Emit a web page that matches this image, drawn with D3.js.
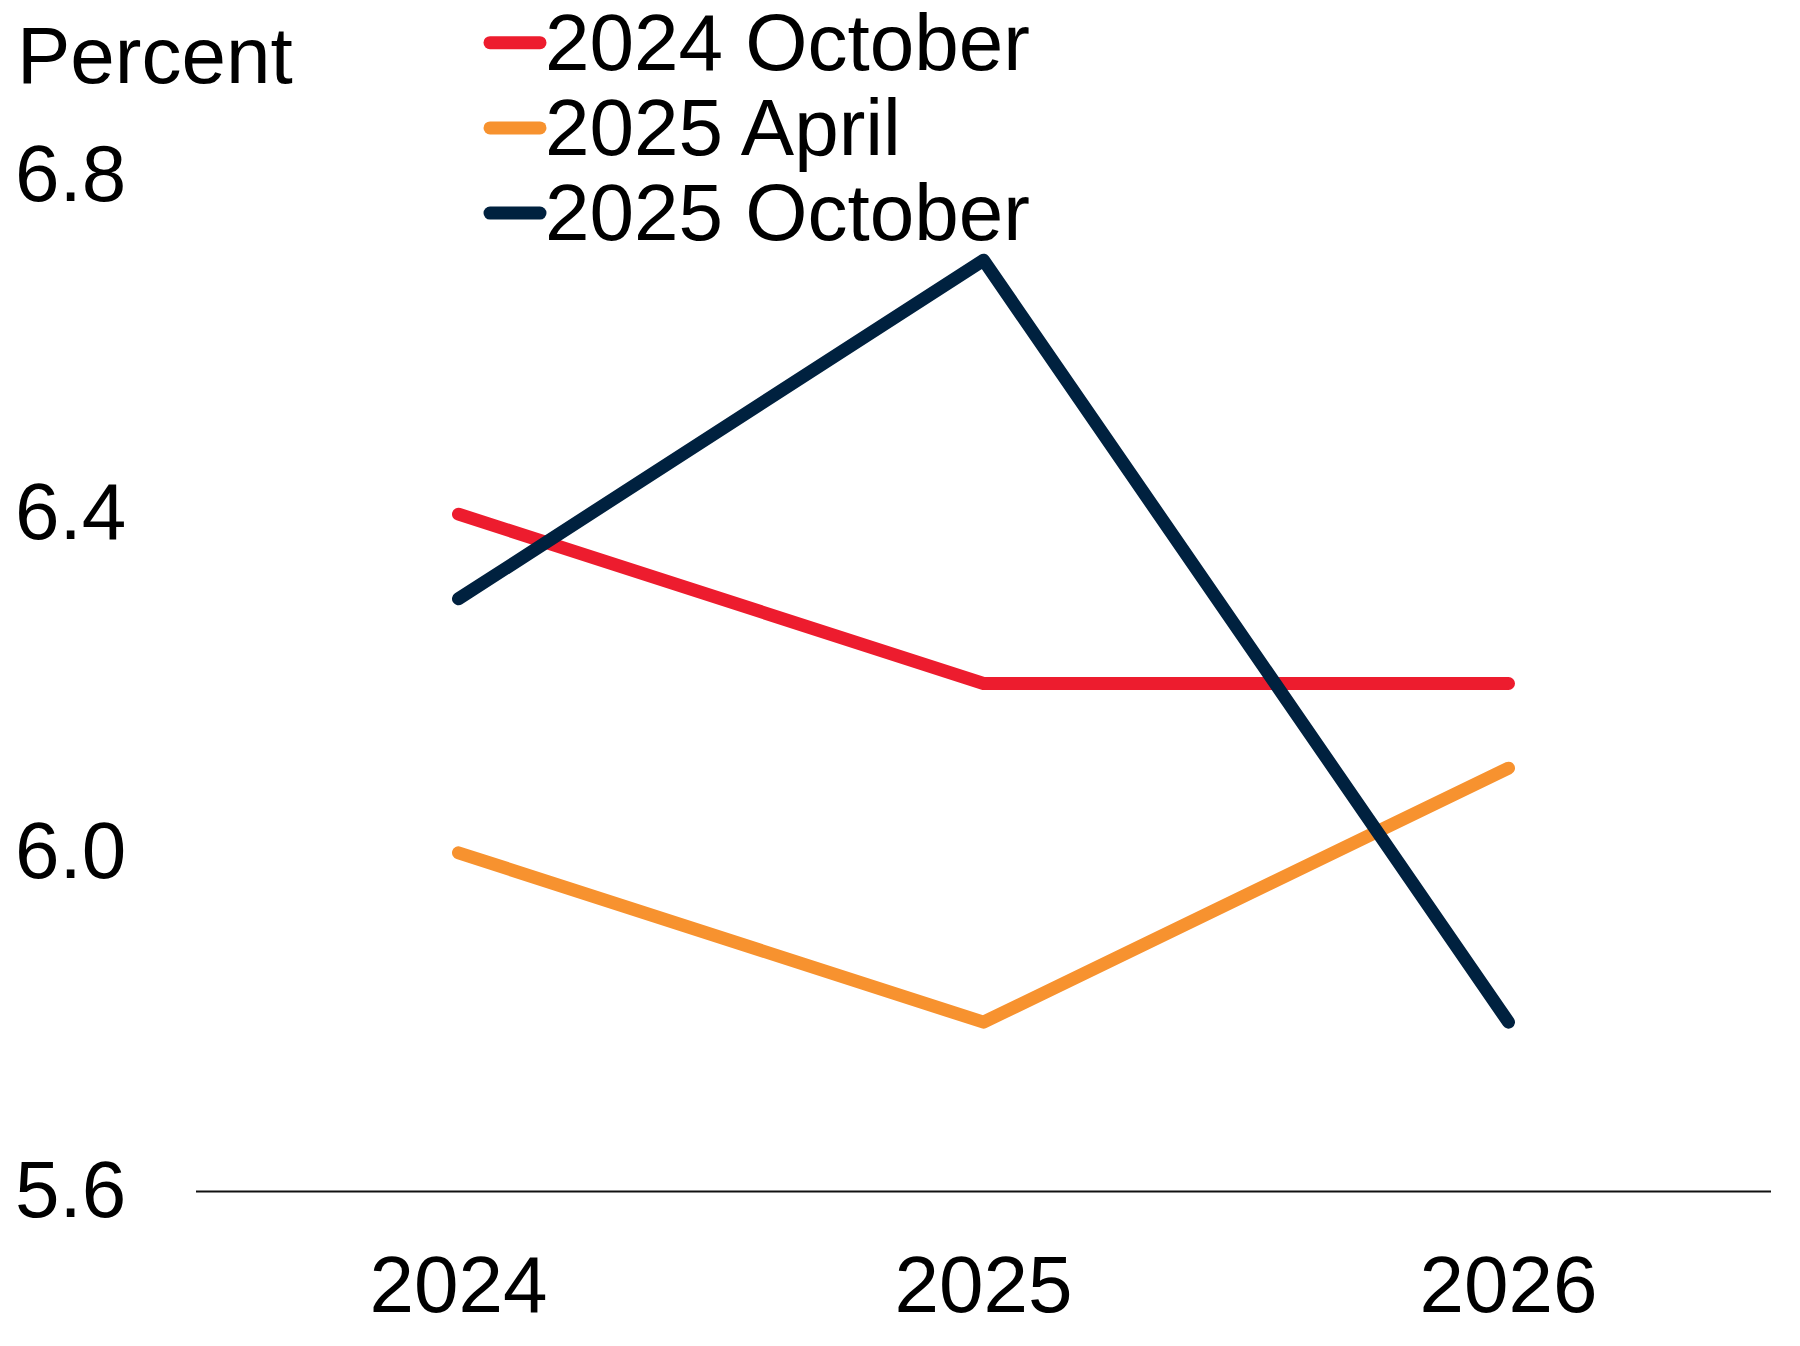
<!DOCTYPE html>
<html>
<head>
<meta charset="utf-8">
<script src="https://cdn.jsdelivr.net/npm/d3@7"></script>
<style>
html,body{margin:0;padding:0;background:#fff;}
svg{display:block;font-family:"Liberation Sans",Arial,sans-serif;}
</style>
</head>
<body>
<svg id="chart" width="1800" height="1346"></svg>
<script>
const categories = ["2024", "2025", "2026"];
const seriesNames = ["2024 October", "2025 April", "2025 October"];
const oct2024 = [6.4, 6.2, 6.2];
const apr2025 = [6.0, 5.8, 6.1];
const oct2025 = [6.3, 6.7, 5.8];
const yTicks = [5.6, 6.0, 6.4, 6.8];
const colors = ["#ED1C2E", "#F7922F", "#00213F"];
const series = [oct2024, apr2025, oct2025];

const svg = d3.select("#chart");
const mLeft = 196, mRight = 1771, mTop = 175.5, mBottom = 1191.5;
const fs = 80;

const x = d3.scalePoint().domain(categories).range([mLeft, mRight]).padding(0.5);
const y = d3.scaleLinear().domain([5.6, 6.8]).range([mBottom, mTop]);

// y tick labels
svg.append("g").selectAll("text").data(yTicks).join("text")
  .attr("x", 15).attr("y", d => y(d) + 25)
  .attr("font-size", fs).attr("fill", "#000")
  .text(d => d3.format(".1f")(d));

// axis title
svg.append("text").attr("x", 17).attr("y", 83)
  .attr("font-size", fs).attr("fill", "#000").text("Percent");

// x axis line
svg.append("line").attr("x1", mLeft).attr("x2", mRight)
  .attr("y1", y(5.6)).attr("y2", y(5.6))
  .attr("stroke", "#111").attr("stroke-width", 2);

// x tick labels
svg.append("g").selectAll("text").data(categories).join("text")
  .attr("x", d => x(d)).attr("y", 1312)
  .attr("text-anchor", "middle")
  .attr("font-size", fs).attr("fill", "#000")
  .text(d => d);

// lines
const line = d3.line().x((d, i) => x(categories[i])).y(d => y(d));
svg.append("g").selectAll("path").data(series).join("path")
  .attr("d", d => line(d))
  .attr("fill", "none")
  .attr("stroke", (d, i) => colors[i])
  .attr("stroke-width", 13)
  .attr("stroke-linecap", "round")
  .attr("stroke-linejoin", "round");

// legend
const lg = svg.append("g");
seriesNames.forEach((name, i) => {
  const cy = 42.7 + i * 85.2;
  lg.append("line").attr("x1", 490).attr("x2", 540).attr("y1", cy).attr("y2", cy)
    .attr("stroke", colors[i]).attr("stroke-width", 13).attr("stroke-linecap", "round");
  lg.append("text").attr("x", 545).attr("y", cy + 27)
    .attr("font-size", fs).attr("fill", "#000").text(name);
});
</script>
</body>
</html>
